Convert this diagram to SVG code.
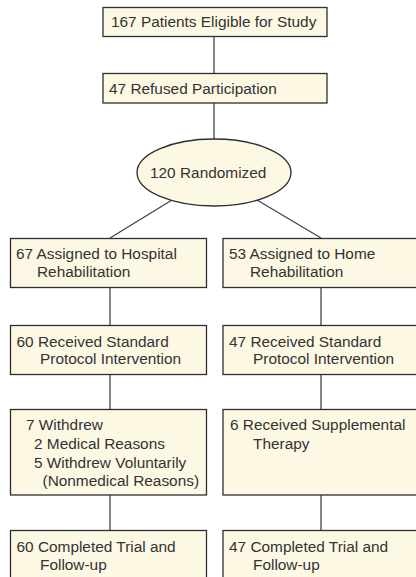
<svg xmlns="http://www.w3.org/2000/svg" width="416" height="577" viewBox="0 0 416 577">
<style>
.box{fill:#fdf8e4;stroke:#2e2e2e;stroke-width:1.3}
.t{font-family:"Liberation Sans",Arial,sans-serif;font-size:15.4px;fill:#333}
.c{stroke:#444;stroke-width:1.3;fill:none}
</style>
<rect width="416" height="577" fill="#fff"/>
<g id="connectors">
<line class="c" x1="214" y1="37" x2="214" y2="73"/>
<line class="c" x1="214" y1="103" x2="214" y2="139"/>
<line class="c" x1="172" y1="200" x2="110" y2="238"/>
<line class="c" x1="257" y1="200" x2="321" y2="238"/>
<line class="c" x1="110" y1="287" x2="110" y2="325"/>
<line class="c" x1="321" y1="287" x2="321" y2="325"/>
<line class="c" x1="110" y1="374" x2="110" y2="409"/>
<line class="c" x1="321" y1="374" x2="321" y2="409"/>
<line class="c" x1="110" y1="495" x2="110" y2="530"/>
<line class="c" x1="321" y1="495" x2="321" y2="530"/>
</g>
<g id="eligible">
<rect class="box" x="103" y="7.5" width="224" height="29"/>
<text class="t" x="111" y="27.3">167 Patients Eligible for Study</text>
</g>
<g id="refused">
<rect class="box" x="103" y="73.5" width="224" height="29.5"/>
<text class="t" x="109" y="94">47 Refused Participation</text>
</g>
<g id="randomized">
<ellipse class="box" cx="214" cy="172.5" rx="77" ry="33.5"/>
<text class="t" x="150" y="178">120 Randomized</text>
</g>
<g id="hospital">
<rect class="box" x="10.5" y="238.5" width="196" height="49"/>
<text class="t" x="16"><tspan x="16" y="259">67 Assigned to Hospital</tspan><tspan x="37" y="277">Rehabilitation</tspan></text>
</g>
<g id="home">
<rect class="box" x="223" y="238.5" width="200" height="49"/>
<text class="t"><tspan x="229" y="259">53 Assigned to Home</tspan><tspan x="250" y="277">Rehabilitation</tspan></text>
</g>
<g id="hospital-standard">
<rect class="box" x="10.5" y="325.5" width="196" height="49"/>
<text class="t"><tspan x="16.5" y="346.5">60 Received Standard</tspan><tspan x="40" y="364">Protocol Intervention</tspan></text>
</g>
<g id="home-standard">
<rect class="box" x="223" y="325.5" width="200" height="49"/>
<text class="t"><tspan x="229" y="346.5">47 Received Standard</tspan><tspan x="253" y="364">Protocol Intervention</tspan></text>
</g>
<g id="withdrew">
<rect class="box" x="10.5" y="409.5" width="196" height="85.5"/>
<text class="t"><tspan x="26" y="430">7 Withdrew</tspan><tspan x="34" y="449">2 Medical Reasons</tspan><tspan x="34" y="467.5">5 Withdrew Voluntarily</tspan><tspan x="42.5" y="486">(Nonmedical Reasons)</tspan></text>
</g>
<g id="supplemental">
<rect class="box" x="223" y="409.5" width="200" height="85.5"/>
<text class="t"><tspan x="230" y="430">6 Received Supplemental</tspan><tspan x="253" y="449">Therapy</tspan></text>
</g>
<g id="hospital-completed">
<rect class="box" x="10.5" y="530.5" width="196" height="60"/>
<text class="t"><tspan x="16.5" y="551.5">60 Completed Trial and</tspan><tspan x="40" y="570">Follow-up</tspan></text>
</g>
<g id="home-completed">
<rect class="box" x="223" y="530.5" width="200" height="60"/>
<text class="t"><tspan x="229" y="551.5">47 Completed Trial and</tspan><tspan x="253" y="570">Follow-up</tspan></text>
</g>
</svg>
